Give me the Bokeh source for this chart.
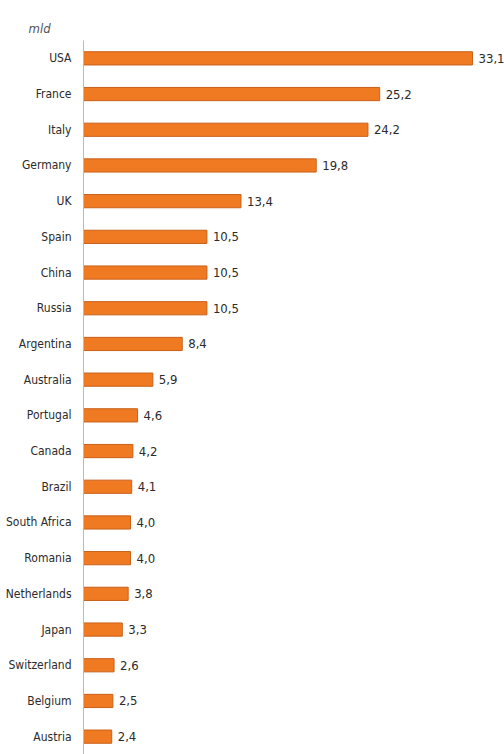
from bokeh.plotting import figure
from bokeh.models import ColumnDataSource, Range1d, FactorRange, LabelSet, Title
from bokeh.core.properties import value
from bokeh.embed import file_html
from bokeh.resources import INLINE

countries = ["USA", "France", "Italy", "Germany", "UK", "Spain", "China", "Russia",
             "Argentina", "Australia", "Portugal", "Canada", "Brazil", "South Africa",
             "Romania", "Netherlands", "Japan", "Switzerland", "Belgium", "Austria"]
values = [33.1, 25.2, 24.2, 19.8, 13.4, 10.5, 10.5, 10.5, 8.4, 5.9,
          4.6, 4.2, 4.1, 4.0, 4.0, 3.8, 3.3, 2.6, 2.5, 2.4]
value_labels = [f"{v:.1f}".replace(".", ",") for v in values]
unit_label = "mld"

src = ColumnDataSource(dict(country=countries, value=values, label=value_labels))

FONT = "DejaVu Sans Condensed"

p = figure(width=504, height=754, output_backend="svg", toolbar_location=None,
           y_range=FactorRange(factors=list(reversed(countries)), range_padding=0),
           x_range=Range1d(0, 35.82),
           min_border_left=83, min_border_right=0, min_border_top=40, min_border_bottom=0)

p.hbar(y="country", right="value", left=0, height=0.37, source=src,
       fill_color="#F07A22", line_color="#C9601A", line_width=1)

labels = LabelSet(x="value", y="country", text="label", source=src, x_offset=6,
                  text_baseline="middle", text_font=value(FONT), text_font_size="13px",
                  text_color="#2b2b2b")
p.add_layout(labels)

p.xaxis.visible = False
p.xgrid.visible = False
p.ygrid.visible = False
p.outline_line_color = None
p.yaxis.axis_line_color = "#BBBBBB"
p.yaxis.major_tick_line_color = None
p.yaxis.minor_tick_line_color = None
p.yaxis.major_label_text_font = FONT
p.yaxis.major_label_text_font_size = "12px"
p.yaxis.major_label_text_color = "#2b2b2b"
p.yaxis.major_label_standoff = 6

t = Title(text=unit_label, text_font_style="italic", text_font=FONT,
          text_font_size="13px", text_color="#555555", align="left", offset=-55)
p.add_layout(t, "above")

open("out.html", "w").write(file_html(p, INLINE))
